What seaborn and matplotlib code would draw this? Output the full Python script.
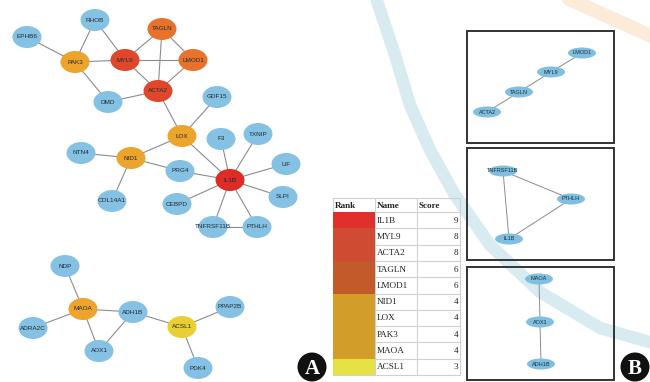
import numpy as np
import pandas as pd
import seaborn as sns
import matplotlib.pyplot as plt
from matplotlib.patches import Ellipse, Rectangle, Circle
from matplotlib.colors import ListedColormap
from matplotlib.path import Path
from matplotlib.patches import PathPatch

sns.set_theme(style="white")
plt.rcParams["font.family"] = ["Liberation Sans", "DejaVu Sans"]

# ---- hub-gene table ----
ranks = [1, 2, 2, 4, 4, 6, 6, 6, 6, 10]
names = ["IL1B", "MYL9", "ACTA2", "TAGLN", "LMOD1", "NID1", "LOX", "PAK3", "MAOA", "ACSL1"]
scores = [9, 8, 8, 6, 6, 4, 4, 4, 4, 3]
rank_colors = {1: "#E0302B", 2: "#CF4C33", 4: "#C25A2A", 6: "#D29D29", 10: "#E6E246"}

# ---- PPI network (node layout in canvas units) ----
node_names = ["RHOB", "EPHB6", "PAK3", "MYL9", "TAGLN", "LMOD1", "ACTA2", "DMD", "GDF15",
              "LOX", "F3", "TXNIP", "LIF", "NID1", "NTN4", "PRG4", "IL1B", "SLPI",
              "CEBPD", "COL14A1", "TNFRSF11B", "PTHLH",
              "NDP", "MAOA", "ADRA2C", "ADH1B", "AOX1", "ACSL1", "PPAP2B", "PDK4"]
node_x = [95, 27, 75, 125, 162, 193, 158, 108, 217,
          182, 221, 258, 286, 131, 81, 180, 230, 283,
          177, 112, 213, 257,
          65, 83, 33, 133, 99, 182, 230, 198]
node_y = [20, 37, 62, 60, 29, 60, 91, 102, 97,
          136, 139, 134, 164, 158, 153, 171, 180, 197,
          204, 201, 227, 227,
          266, 309, 328, 312, 351, 327, 307, 368]
edges = [("EPHB6", "PAK3"), ("RHOB", "PAK3"), ("RHOB", "MYL9"), ("PAK3", "MYL9"),
         ("PAK3", "DMD"), ("DMD", "ACTA2"), ("MYL9", "TAGLN"), ("MYL9", "LMOD1"),
         ("MYL9", "ACTA2"), ("TAGLN", "LMOD1"), ("TAGLN", "ACTA2"), ("LMOD1", "ACTA2"),
         ("ACTA2", "LOX"), ("GDF15", "LOX"), ("LOX", "NID1"), ("LOX", "IL1B"),
         ("NTN4", "NID1"), ("NID1", "PRG4"), ("NID1", "COL14A1"), ("PRG4", "IL1B"),
         ("F3", "IL1B"), ("TXNIP", "IL1B"), ("LIF", "IL1B"), ("SLPI", "IL1B"),
         ("CEBPD", "IL1B"), ("TNFRSF11B", "IL1B"), ("PTHLH", "IL1B"),
         ("TNFRSF11B", "PTHLH"),
         ("NDP", "MAOA"), ("MAOA", "ADRA2C"), ("MAOA", "ADH1B"), ("MAOA", "AOX1"),
         ("ADH1B", "AOX1"), ("ADH1B", "ACSL1"), ("ACSL1", "PPAP2B"), ("ACSL1", "PDK4")]
hub_fill = {"IL1B": "#DD2B26", "MYL9": "#E0472A", "ACTA2": "#E0472A",
            "TAGLN": "#E8722C", "LMOD1": "#E8722C",
            "PAK3": "#EDA42C", "LOX": "#EDA42C", "NID1": "#EDA42C", "MAOA": "#EDA42C",
            "ACSL1": "#E9CF31"}
other_fill = "#85C1E3"

# ---- MCODE modules (one per box) ----
modules = [
    dict(box=(467, 31, 614, 143),
         names=["LMOD1", "MYL9", "TAGLN", "ACTA2"],
         x=[582, 551, 519, 487], y=[53, 72, 92, 112],
         edges=[("LMOD1", "MYL9"), ("MYL9", "TAGLN"), ("TAGLN", "ACTA2")]),
    dict(box=(467, 148, 614, 260),
         names=["TNFRSF11B", "PTHLH", "IL1B"],
         x=[503, 571, 509], y=[171, 199, 239],
         edges=[("TNFRSF11B", "PTHLH"), ("TNFRSF11B", "IL1B"), ("PTHLH", "IL1B")]),
    dict(box=(467, 267, 614, 380),
         names=["MAOA", "AOX1", "ADH1B"],
         x=[539, 540, 541], y=[279, 322, 364],
         edges=[("MAOA", "AOX1"), ("AOX1", "ADH1B")]),
]

W, H = 650, 382
fig = plt.figure(figsize=(6.5, 3.82), dpi=100)
ax = fig.add_axes([0, 0, 1, 1])
ax.set_xlim(0, W)
ax.set_ylim(H, 0)
ax.axis("off")

# faint background seal
band = [(375, -5), (395, 55), (410, 105), (430, 150), (455, 195), (490, 245),
        (540, 292), (600, 328), (660, 345)]
bx, by = zip(*band)
ax.plot(bx, by, color="#D8EBF1", lw=9, solid_capstyle="round", zorder=0)
ax.plot([560, 660], [-5, 40], color="#FBE7CF", lw=10, alpha=0.8, zorder=0)

# main network
pos = {n: (x, y) for n, x, y in zip(node_names, node_x, node_y)}
edge_df = pd.DataFrame(
    [(i, pos[a][0], pos[a][1]) for i, (a, b) in enumerate(edges)] +
    [(i, pos[b][0], pos[b][1]) for i, (a, b) in enumerate(edges)],
    columns=["edge", "x", "y"])
for _, g in edge_df.groupby("edge"):
    ax.plot(g["x"], g["y"], color="#8C8C8C", lw=0.8, zorder=1)
for n in node_names:
    x, y = pos[n]
    ax.add_patch(Ellipse((x, y), 29, 22, facecolor=hub_fill.get(n, other_fill),
                         edgecolor="none", zorder=2))
    ax.text(x, y, n, ha="center", va="center", fontsize=4.6, color="#1F2A33", zorder=3)

# module boxes
for m in modules:
    x0, y0, x1, y1 = m["box"]
    ax.add_patch(Rectangle((x0, y0), x1 - x0, y1 - y0, facecolor="none",
                           edgecolor="#333333", lw=1.4, zorder=2))
    mp = {n: (x, y) for n, x, y in zip(m["names"], m["x"], m["y"])}
    for a, b in m["edges"]:
        ax.plot([mp[a][0], mp[b][0]], [mp[a][1], mp[b][1]], color="#8C8C8C", lw=0.7, zorder=3)
    for n in m["names"]:
        x, y = mp[n]
        ax.add_patch(Ellipse((x, y), 28, 11, facecolor="#7FBFE0", edgecolor="none", zorder=4))
        ax.text(x, y, n, ha="center", va="center", fontsize=4.0, color="#1F2A33", zorder=5)

# panel letters
for cx, lab in [(312, "A"), (635, "B")]:
    ax.add_patch(Circle((cx, 367), 14.5, facecolor="#111111", edgecolor="none", zorder=6))
    ax.text(cx, 368.5, lab, ha="center", va="center", fontsize=15, fontweight="bold",
            color="white", family=["Liberation Serif", "DejaVu Serif"], zorder=7)

# hub-gene table
tx0, tx1 = 333, 460
col_edges = [333, 375, 417, 460]
head_top, body_top, body_bot = 198, 212, 375
row_h = (body_bot - body_top) / len(names)

tab_ax = fig.add_axes([tx0 / W, 1 - body_bot / H, (col_edges[1] - tx0) / W,
                       (body_bot - body_top) / H])
levels = sorted(rank_colors)
code = np.array([[levels.index(r)] for r in ranks])
sns.heatmap(code, ax=tab_ax, cmap=ListedColormap([rank_colors[k] for k in levels]),
            vmin=-0.5, vmax=len(levels) - 0.5, cbar=False, xticklabels=False,
            yticklabels=False, linewidths=0)
tab_ax.axis("off")

grid = "#D0D0D0"
ax.add_patch(Rectangle((tx0, head_top), tx1 - tx0, body_bot - head_top, facecolor="none",
                       edgecolor=grid, lw=0.8, zorder=1))
for cx in col_edges[1:-1]:
    ax.plot([cx, cx], [head_top, body_bot], color=grid, lw=0.8, zorder=1)
ax.plot([tx0, tx1], [body_top, body_top], color=grid, lw=0.8, zorder=1)
for i in range(1, len(names)):
    yy = body_top + i * row_h
    ax.plot([col_edges[1], tx1], [yy, yy], color=grid, lw=0.8, zorder=1)

serif = ["Liberation Serif", "DejaVu Serif"]
hy = (head_top + body_top) / 2
for cx, lab in zip(col_edges[:-1], ["Rank", "Name", "Score"]):
    ax.text(cx + 2, hy + 0.5, lab, ha="left", va="center", fontsize=6.6, fontweight="bold",
            family=serif, color="#222222")
for i, (r, n, s) in enumerate(zip(ranks, names, scores)):
    yy = body_top + (i + 0.5) * row_h + 0.5
    ax.text(col_edges[1] - 1.5, yy, str(r), ha="right", va="center", fontsize=6.6,
            family=serif, color="#222222")
    ax.text(col_edges[1] + 2, yy, n, ha="left", va="center", fontsize=6.6,
            family=serif, color="#222222")
    ax.text(tx1 - 2, yy, str(s), ha="right", va="center", fontsize=6.6,
            family=serif, color="#222222")

fig.savefig("out.png", dpi=100)
